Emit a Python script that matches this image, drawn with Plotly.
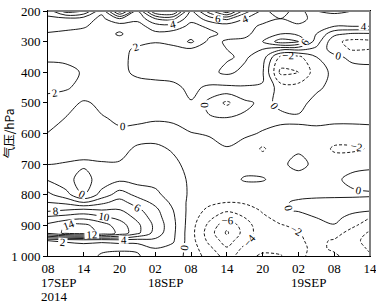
import plotly.graph_objects as go

# time axis: hours after 17SEP 08 (3-hourly grid)
hours = [0, 3, 6, 9, 12, 15, 18, 21, 24, 27, 30, 33, 36, 39, 42, 45, 48, 51, 54]
tick_hours = [0, 6, 12, 18, 24, 30, 36, 42, 48, 54]
tick_labels = ["08", "14", "20", "02", "08", "14", "20", "02", "08", "14"]
date_day_labels = ["17SEP", "18SEP", "19SEP"]
date_hours = [0, 18, 42]
year_label = "2014"

pressure = [200, 225, 250, 275, 300, 325, 350, 400, 450, 500, 550, 600, 650,
            700, 750, 800, 825, 850, 875, 900, 925, 950, 975, 1000]
p_ticks = [200, 300, 400, 500, 600, 700, 800, 900, 1000]
p_ticklabels = ["200", "300", "400", "500", "600", "700", "800", "900", "1 000"]

v200 = [5, 9, 8, 2.5, 11, 4, 12, 12.5, 3.5, 9, 13.5, 7, 3.5, 5, 3, 6, 6.5, 6, 5.5]
v225 = [3.5, 3.5, 3, 1.5, 4, 2.5, 6, 6.5, 2.5, 5, 6.5, 4, 3, 4, 3, 5, 5, 5, 4.5]
v250 = [2.8, 2.6, 2.2, 1.2, 0.8, 1.2, 3, 3, 1.5, 2.3, 2.8, 3, 4.5, 4.5, 4.5, 4.5, 4, 4, 4]
v275 = [1.8, 1.5, 1.3, 1.0, -0.3, 1.2, 1.5, 1.2, 1.0, 1.5, 2.5, 3.5, 5, 6, 5.5, 4, 0.5, -0.3, -0.3]
v300 = [1.3, 1.2, 1.1, 1.0, 1.0, 1.5, 1.9, 1.5, -0.4, 2.5, 4.5, 4.5, 6, 9, 8, 3, -1.5, -2.6, -2.4]
v325 = [1.2, 1.3, 1.2, 1.1, 1.5, 2.3, 2.6, 2.5, 2.3, 3, 4, 4.2, 4, 2.5, 2.5, 1.5, -1, -2.2, -2]
v350 = [1.6, 1.5, 1.3, 1.2, 1.5, 2.5, 2.8, 3, 3, 3.2, 3.8, 4.3, 3, -2.5, -2.5, 0, 0.5, -0.5, -1]
v400 = [2.8, 2.6, 1.8, 1.2, 1.5, 2.4, 2.6, 2.7, 2.8, 3.5, 4.4, 3.5, 2.2, -4.5, -4, -1, 0.5, 0.8, 1]
v450 = [2.4, 2.3, 1.2, 1.0, 1.0, 1.2, 1.4, 1.6, 2.4, 1.7, 1.6, 1.8, 1.9, -1.0, -1.2, -0.3, 0.5, 0.8, 1.0]
v500 = [1.4, 0.6, -0.2, 0.3, 0.5, 0.6, 0.6, 0.8, 1.9, -0.6, -2.4, -0.4, 0.4, -0.3, -0.5, 0.5, 0.6, 0.6, 0.6]
v550 = [0.6, -0.05, -0.6, -0.1, 0.2, 0.2, 0.1, 0.1, 0.6, 0.2, 0.1, 0.3, 0.4, 0.3, 0.2, 0.3, 0.3, 0.3, 0.3]
v600 = [-0.05, -0.4, -0.6, -0.4, -0.2, -0.3, -0.4, -0.2, -0.05, 0.1, 0.6, 0.2, -0.1, -0.4, -0.3, -0.3, -0.5, -0.5, -0.4]
v650 = [-0.6, -0.7, -0.5, -0.5, -0.2, 0.1, 0.2, -0.1, -0.4, -0.4, -0.1, -0.5, -2.3, -0.5, -0.3, -0.5, -2.4, -2.4, -1.8]
v700 = [-0.05, 0.1, 0.2, 0.1, 0.05, 0.5, 0.7, 0.2, -0.3, -0.5, -0.4, -0.6, -0.6, -0.4, 0.6, -0.5, -0.6, -0.5, -0.4]
v750 = [1.8, 0.4, -0.5, 0.6, 1.6, 1.2, 1.3, 0.5, -0.2, -0.6, -0.6, 0.15, 0.1, -0.5, -0.8, -0.5, -0.3, 0.4, 0.7]
v800 = [4.5, 2.8, -0.1, 2.8, 5, 3.5, 2.5, 1, -0.3, -1, -1.3, -1, -0.8, -0.5, -0.5, -0.3, -0.3, -0.3, -0.2]
v825 = [6, 5.5, 4, 5.5, 6.8, 5, 3.5, 1.5, -0.6, -1.5, -2, -1.8, -1.2, -0.3, 0.3, 0.4, 0.5, 0.6, 0.6]
v850 = [7.5, 8, 8.5, 8, 8.1, 6.5, 4.5, 2, -0.8, -2.5, -3.6, -2.8, -1.8, -0.2, 0.2, 0.5, 0.7, 0.5, 0.3]
v875 = [10.5, 11, 11.5, 10.5, 9.5, 7.5, 5, 2.3, -1, -3.5, -5.5, -4, -2.3, -1.5, -0.8, 0, 0.5, -0.6, -2]
v900 = [12.5, 14, 14.5, 13, 11, 8.5, 5.5, 2.5, -1.2, -4.5, -7.5, -5, -2.6, -2.1, -1.7, -0.8, -0.1, -1.6, -3]
v925 = [12.5, 14.5, 15, 13.5, 11.5, 8.5, 5.2, 2.4, -1.3, -5, -8.3, -5.2, -2.7, -2.3, -2.1, -1.3, -1.2, -2.8, -4.3]
v950 = [2, 2.2, 2.5, 2.5, 3, 3, 3.5, 2.2, -1.2, -4.5, -7, -4.5, -2.6, -2.3, -2.2, -1.6, -2.2, -3.3, -4.8]
v975 = [1.2, 1.2, 1.2, 0.5, 0.3, 0.4, 2, 1.5, -1, -3.5, -5.8, -3.5, -3.2, -3, -2.3, -1.7, -2.2, -3, -4.3]
v1000 = [1, 1, 1, -0.3, -0.5, -0.3, 1.5, 1.0, -0.8, -2.8, -4.8, -3, -4.5, -4.2, -2.2, -1.7, -1.8, -2.5, -3.8]

field = [v200, v225, v250, v275, v300, v325, v350, v400, v450, v500, v550, v600,
         v650, v700, v750, v800, v825, v850, v875, v900, v925, v950, v975, v1000]

SERIF = "Liberation Serif, Times New Roman, serif"
CJK = "Noto Sans CJK SC, Liberation Serif, sans-serif"
black = [[0, "black"], [1, "black"]]

fig = go.Figure()
# negative contours (dashed)
fig.add_trace(go.Contour(
    x=hours, y=pressure, z=field, colorscale=black, showscale=False,
    contours=dict(coloring="lines", start=-10, end=-2, size=2, showlabels=True,
                  labelfont=dict(family=SERIF, size=11, color="black")),
    line=dict(width=0.9, dash="3px,2px", smoothing=1.0),
    hoverinfo="skip"))
# zero and positive contours (solid)
fig.add_trace(go.Contour(
    x=hours, y=pressure, z=field, colorscale=black, showscale=False,
    contours=dict(coloring="lines", start=0, end=16, size=2, showlabels=True,
                  labelfont=dict(family=SERIF, size=11, color="black")),
    line=dict(width=0.9, smoothing=1.0),
    hoverinfo="skip"))

for h, lab in zip(date_hours, date_day_labels):
    fig.add_annotation(x=h, y=0, xref="x", yref="paper", text=lab, showarrow=False,
                       xanchor="left", yanchor="top", xshift=-9, yshift=-17,
                       font=dict(family=SERIF, size=13, color="black"))
fig.add_annotation(x=date_hours[0], y=0, xref="x", yref="paper", text=year_label,
                   showarrow=False, xanchor="left", yanchor="top", xshift=-9, yshift=-31,
                   font=dict(family=SERIF, size=13, color="black"))

# heavier grey frame on the top and right sides, as in the reference
fig.add_shape(type="line", xref="paper", yref="paper", x0=0, x1=1, y0=1, y1=1,
              line=dict(color="#808080", width=2))
fig.add_shape(type="line", xref="paper", yref="paper", x0=1, x1=1, y0=0, y1=1,
              line=dict(color="#808080", width=2))

fig.update_layout(
    width=376, height=303,
    margin=dict(l=48, r=6, t=11, b=47),
    paper_bgcolor="white", plot_bgcolor="white",
    showlegend=False,
    font=dict(family=SERIF, size=13, color="black"),
)
fig.update_xaxes(range=[0, 54], tickvals=tick_hours, ticktext=tick_labels,
                 ticks="inside", ticklen=4, tickcolor="black", automargin=False,
                 ticklabeloverflow="allow",
                 showline=True, linecolor="black", linewidth=1, mirror=True,
                 showgrid=False, zeroline=False,
                 tickfont=dict(family=SERIF, size=13, color="black"))
fig.update_yaxes(range=[1000, 200], tickvals=p_ticks, ticktext=p_ticklabels,
                 ticks="outside", ticklen=4, tickcolor="black", automargin=False,
                 ticklabeloverflow="allow",
                 showline=True, linecolor="black", linewidth=1, mirror=True,
                 showgrid=False, zeroline=False,
                 title=dict(text="气压/hPa", standoff=2,
                            font=dict(family=CJK, size=12, color="black")),
                 tickfont=dict(family=SERIF, size=13, color="black"))

# remove the browser's default page margin so the figure fills the window
fig.write_html("out.html", config={"displayModeBar": False, "staticPlot": True},
               post_script="document.body.style.margin='0px';")
